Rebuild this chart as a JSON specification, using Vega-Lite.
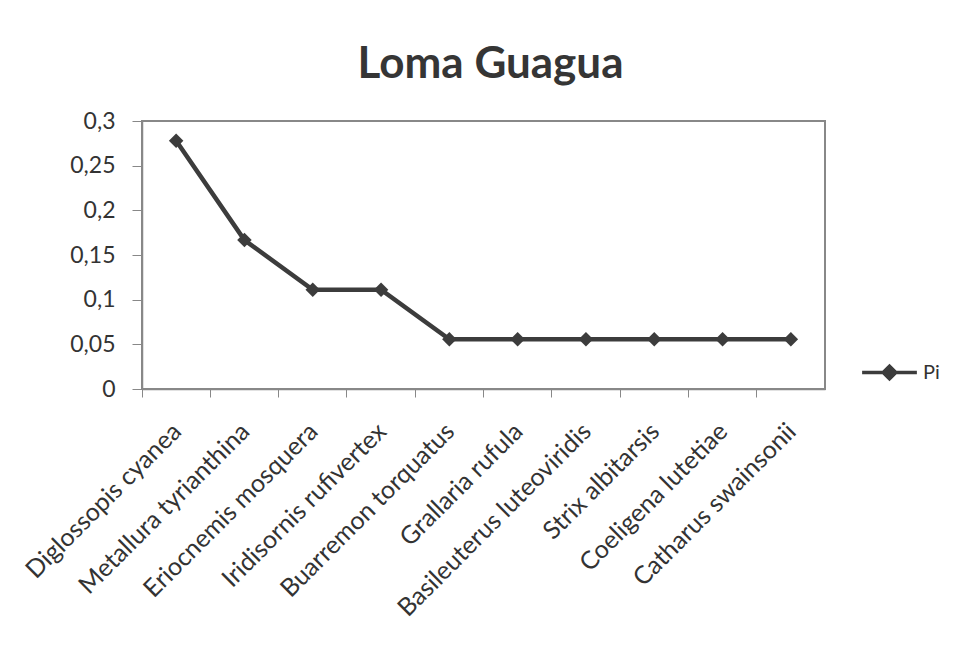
{
  "$schema": "https://vega.github.io/schema/vega-lite/v6.json",
  "width": 683,
  "height": 268,
  "autosize": "none",
  "padding": {"left": 142, "top": 121, "right": 136, "bottom": 257},
  "background": "white",
  "title": {
    "text": "Loma Guagua",
    "font": "Lato",
    "fontSize": 44,
    "fontWeight": "bold",
    "color": "#353535",
    "anchor": "middle",
    "dx": 7,
    "offset": 23
  },
  "data": {
    "values": [
      {"species": "Diglossopis cyanea", "Pi": 0.2778},
      {"species": "Metallura tyrianthina", "Pi": 0.1667},
      {"species": "Eriocnemis mosquera", "Pi": 0.1111},
      {"species": "Iridisornis rufivertex", "Pi": 0.1111},
      {"species": "Buarremon torquatus", "Pi": 0.0556},
      {"species": "Grallaria rufula", "Pi": 0.0556},
      {"species": "Basileuterus luteoviridis", "Pi": 0.0556},
      {"species": "Strix albitarsis", "Pi": 0.0556},
      {"species": "Coeligena lutetiae", "Pi": 0.0556},
      {"species": "Catharus swainsonii", "Pi": 0.0556}
    ]
  },
  "mark": {
    "type": "line",
    "strokeWidth": 4.5,
    "point": {"shape": "diamond", "size": 210, "filled": true, "opacity": 1}
  },
  "encoding": {
    "x": {
      "field": "species",
      "type": "nominal",
      "sort": null,
      "title": null,
      "scale": {"type": "band", "paddingInner": 0, "paddingOuter": 0},
      "axis": {
        "bandPosition": 0,
        "labelAngle": -45,
        "labelAlign": "right",
        "labelBaseline": "middle",
        "labelFont": "Lato",
        "labelFontSize": 25,
        "labelColor": "#333333",
        "labelLimit": 400,
        "labelPadding": 30,
        "labelOffset": 1,
        "tickSize": 8,
        "tickColor": "#888888",
        "domainColor": "#888888",
        "domainWidth": 1.5,
        "grid": false
      }
    },
    "y": {
      "field": "Pi",
      "type": "quantitative",
      "title": null,
      "scale": {"domain": [0, 0.3], "nice": false},
      "axis": {
        "values": [0, 0.05, 0.1, 0.15, 0.2, 0.25, 0.3],
        "labelExpr": "replace(format(datum.value, '.2~f'), '.', ',')",
        "labelFont": "Lato",
        "labelFontSize": 23,
        "labelColor": "#333333",
        "labelPadding": 17,
        "tickSize": 10,
        "tickColor": "#888888",
        "domainColor": "#888888",
        "domainWidth": 1.5,
        "grid": false
      }
    },
    "color": {
      "datum": "Pi",
      "scale": {"range": ["#3c3c3c"]},
      "legend": {
        "title": null,
        "orient": "none",
        "legendX": 718,
        "legendY": 222,
        "labelFont": "Lato",
        "labelFontSize": 20,
        "labelColor": "#333333",
        "labelOffset": 4,
        "symbolType": "M-1,0H1M-0.23,0L0,-0.23L0.23,0L0,0.23Z",
        "symbolSize": 3000,
        "symbolStrokeWidth": 3.5,
        "symbolFillColor": "#3c3c3c",
        "symbolStrokeColor": "#3c3c3c"
      }
    }
  },
  "config": {
    "view": {"stroke": "#888888", "strokeWidth": 2},
    "font": "Lato"
  }
}
